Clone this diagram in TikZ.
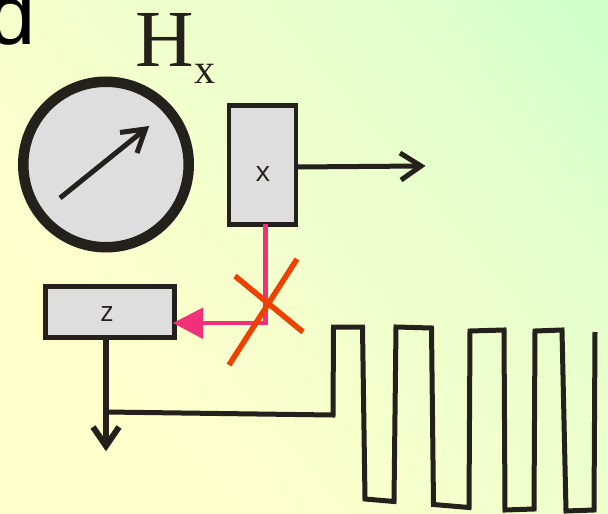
\documentclass[tikz,border=0pt]{standalone}
\usepackage{fontspec}
\setmainfont{Liberation Serif}
\setsansfont{Open Sans}
\newfontfamily\arialfont{Liberation Sans}
\usetikzlibrary{calc}
\definecolor{dk}{HTML}{24211C}
\definecolor{boxgray}{HTML}{DEDEDE}
\definecolor{pinkline}{HTML}{F03078}
\definecolor{orangeline}{HTML}{F04000}
\definecolor{bgA}{HTML}{FFFFCC}
\definecolor{bgB}{HTML}{F2FFCC}
\definecolor{bgC}{HTML}{E2FFCC}
\definecolor{bgD}{HTML}{D0FFCC}
\pgfdeclareverticalshading{bgramp}{100bp}{color(0bp)=(bgA); color(30bp)=(bgA); color(50bp)=(bgB); color(70bp)=(bgC); color(83bp)=(bgD); color(100bp)=(bgD)}
\tikzset{
  blockbox/.style={draw=dk,fill=boxgray,rectangle,inner sep=0pt,outer sep=0pt},
  boxlabel/.style={text=dk,inner sep=0pt,font=\sffamily\fontsize{28}{28}\selectfont},
  wire/.style={draw=dk,line cap=butt,line join=miter},
  barbs/.style={draw=dk,line cap=butt,line join=miter,miter limit=10,fill=none}
}
\begin{document}
\begin{tikzpicture}[x=1pt,y=-1pt]
\useasboundingbox (0,0) rectangle (608,514);
\shade[shading=bgramp,shading angle=-50] (0,0) rectangle (608,514);
\begin{scope}
  \clip (0,0) rectangle (608,514);
  \node[anchor=base west,inner sep=0pt,text=black] (letter) at (-12,44) {\arialfont\fontsize{85}{85}\selectfont d};
\end{scope}
\node[anchor=base west,inner sep=0pt,text=dk] (hlabel) at (135,66) {\fontsize{81}{81}\selectfont H};
\node[anchor=base west,inner sep=0pt,text=dk] (hsub) at (194,83) {\fontsize{42}{42}\selectfont x};

% dial
\node[circle,draw=dk,fill=boxgray,line width=10.5pt,minimum size=165.5pt,inner sep=0pt,outer sep=0pt] (dial) at (106,164.5) {};
\coordinate (ptail) at (60,198);
\coordinate (ptip) at (145.5,129);
\draw[wire,line width=5pt] (ptail) -- (ptip);
\draw[barbs,line width=5pt] (120,132.5) -- (ptip) -- (137,153);

% boxes
\node[blockbox,line width=4.5pt,minimum width=67pt,minimum height=119pt] (bx) at (262.5,164.75) {};
\node[boxlabel] (bxl) at (263,174) {x};
\node[blockbox,line width=5pt,minimum width=129pt,minimum height=51pt] (bz) at (110,312) {};
\node[boxlabel] (bzl) at (107,314) {z};

% x output arrow
\coordinate (xout) at (421,166);
\draw[wire,line width=5pt] (bx.east |- 0,167) -- (xout);
\draw[barbs,line width=5pt] (400,153) -- (xout) -- (401,180);

% pink path
\coordinate (pcorner) at (265.5,323);
\coordinate (ptri) at (173,323);
\draw[draw=pinkline,line width=4.5pt,line join=miter] (bx.south -| pcorner) -- (pcorner) -- (203,323);
\fill[pinkline] (ptri) -- (203,307.5) -- (203,339) -- cycle;

% orange cross
\coordinate (oa) at (229,365);
\coordinate (ob) at (297,259);
\coordinate (oc) at (235,276);
\coordinate (od) at (303,332);
\draw[draw=orangeline,line width=5.5pt] (oa) -- (ob);
\draw[draw=orangeline,line width=5.5pt] (oc) -- (od);

% z output
\coordinate (zout) at (106,446);
\draw[wire,line width=6pt] (bz.south -| zout) -- (zout);
\draw[barbs,line width=6pt] (93,427) -- (zout) -- (119,427);

% waveform
\coordinate (wstart) at (106,412);
\draw[wire,line width=5pt] (wstart) -- (333,415) -- (333.5,327) -- (362.5,327) -- (365,499) -- (394,501.5) -- (396,327) -- (431.5,328) -- (433.5,504.5) -- (469,507.5) -- (470,331) -- (504,330) -- (505,510) -- (534,509) -- (535,331) -- (562,330) -- (566,511) -- (594,510) -- (595,332);
\end{tikzpicture}
\end{document}
